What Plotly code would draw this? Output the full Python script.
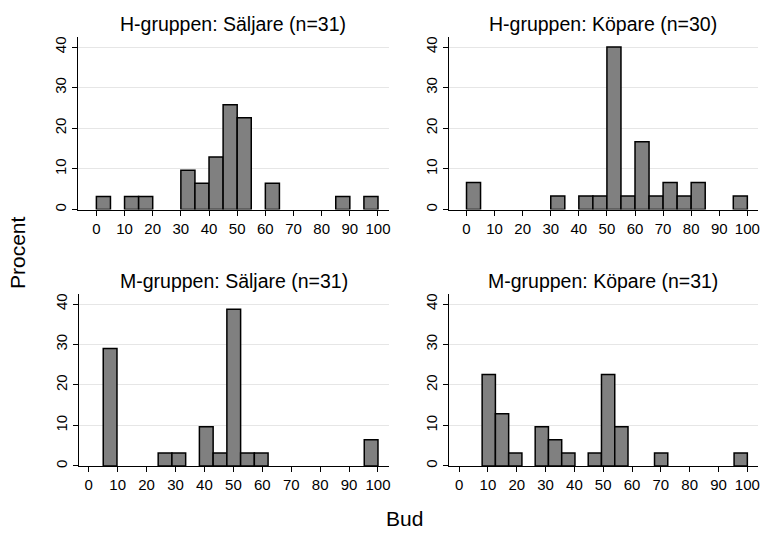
import plotly.graph_objects as go

# ---- data (percent per histogram bin) ----
titles = ["H-gruppen: Säljare (n=31)", "H-gruppen: Köpare (n=30)",
          "M-gruppen: Säljare (n=31)", "M-gruppen: Köpare (n=31)"]
bin_start = [0, 0, 5, 8]
bin_width = [5, 5, 4.75, 4.6]
h_saljare = [3.23, 0, 3.23, 3.23, 0, 0, 9.68, 6.45, 12.90, 25.81,
             22.58, 0, 6.45, 0, 0, 0, 0, 3.23, 0, 3.23]
h_kopare = [6.67, 0, 0, 0, 0, 0, 3.33, 0, 3.33, 3.33,
            40.00, 3.33, 16.67, 3.33, 6.67, 3.33, 6.67, 0, 0, 3.33]
m_saljare = [29.03, 0, 0, 0, 3.23, 3.23, 0, 9.68, 3.23, 38.71,
             3.23, 3.23, 0, 0, 0, 0, 0, 0, 0, 6.45]
m_kopare = [22.58, 12.90, 3.23, 0, 9.68, 6.45, 3.23, 0, 3.23, 22.58,
            9.68, 0, 0, 3.23, 0, 0, 0, 0, 0, 3.23]
series = [h_saljare, h_kopare, m_saljare, m_kopare]
x_ticks = [0, 10, 20, 30, 40, 50, 60, 70, 80, 90, 100]
y_ticks = [0, 10, 20, 30, 40]

W, H = 763, 534
FONT = "Liberation Sans, Arial, Helvetica, sans-serif"

# panel plot areas in pixels: (left, right, top, bottom)
panels = [(78, 390, 37, 210.3), (450, 760, 37, 210.3),
          (79, 390, 295, 467.7), (450, 760, 295, 467.7)]
x_ranges = [(-6.6, 103.9), (-6.3, 103.8), (-3.45, 103.8), (-3.56, 103.7)]
y_range = (0, 42.5)

fig = go.Figure()
layout = dict(width=W, height=H, margin=dict(l=0, r=0, t=0, b=0),
              paper_bgcolor="white", plot_bgcolor="white",
              showlegend=False, font=dict(family=FONT, color="black"),
              bargap=0, annotations=[])

for k in range(4):
    vals = series[k]
    xs, ys = [], []
    for i, v in enumerate(vals):
        if v > 0:
            xs.append(bin_start[k] + bin_width[k] * (i + 0.5))
            ys.append(v)
    sfx = "" if k == 0 else str(k + 1)
    fig.add_trace(go.Bar(x=xs, y=ys, width=bin_width[k],
                         marker=dict(color="#808080",
                                     line=dict(color="black", width=1.5)),
                         xaxis="x" + sfx, yaxis="y" + sfx))
    l, r, t, b = panels[k]
    layout["xaxis" + sfx] = dict(
        domain=[l / W, r / W], range=list(x_ranges[k]), anchor="y" + sfx,
        tickvals=x_ticks, ticks="outside", ticklen=5, tickcolor="black",
        showline=True, linecolor="black", linewidth=1, showgrid=False,
        zeroline=False, tickfont=dict(size=15, family=FONT, color="black"),
        fixedrange=True)
    layout["yaxis" + sfx] = dict(
        domain=[(H - b) / H, (H - t) / H], range=list(y_range), anchor="x" + sfx,
        tickvals=y_ticks, ticks="outside", ticklen=5, tickcolor="black",
        tickangle=-90,
        showline=True, linecolor="black", linewidth=1, showgrid=True,
        gridcolor="#e6e6e6", gridwidth=1, zeroline=False,
        tickfont=dict(size=15, family=FONT, color="black"), fixedrange=True)
    layout["annotations"].append(dict(
        text=titles[k], x=(l + r) / 2 / W, y=(H - (t - 13)) / H,
        xref="paper", yref="paper", xanchor="center", yanchor="middle",
        showarrow=False, font=dict(size=19.5, family=FONT, color="black")))

layout["annotations"].append(dict(
    text="Procent", x=17.5 / W, y=(H - 253.5) / H, xref="paper", yref="paper",
    xanchor="center", yanchor="middle", textangle=-90, showarrow=False,
    font=dict(size=21, family=FONT, color="black")))
layout["annotations"].append(dict(
    text="Bud", x=405.5 / W, y=0, xref="paper", yref="paper",
    xanchor="center", yanchor="bottom", showarrow=False,
    font=dict(size=21, family=FONT, color="black")))

fig.update_layout(**layout)
fig.write_html("out.html",
               config={"displayModeBar": False, "staticPlot": True},
               post_script="document.body.style.margin='0px';"
                           "document.body.style.overflow='hidden';")
